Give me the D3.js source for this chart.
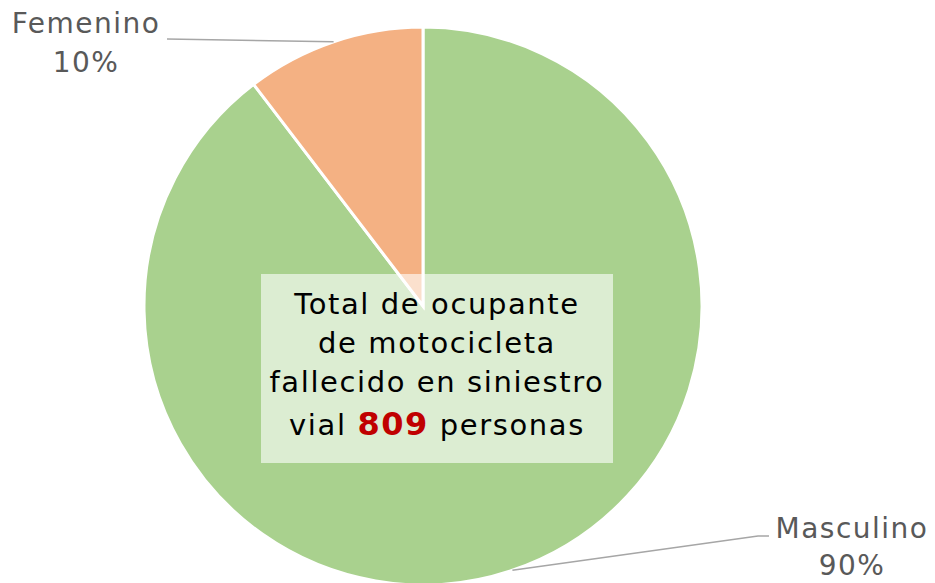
<!DOCTYPE html>
<html>
<head>
<meta charset="utf-8">
<script src="https://cdn.jsdelivr.net/npm/d3@7"></script>
<style>
  body { margin: 0; background: #fff; }
  svg { display: block; font-family: "Century Gothic", "URW Gothic", "DejaVu Sans", sans-serif; }
</style>
</head>
<body>
<div id="chart"></div>
<script>
// data
const categories = ['Masculino', 'Femenino'];
const counts = [725, 84];
const percentLabels = ['90%', '10%'];
const colors = ['#a9d18e', '#f4b183'];
const totalLines = ['Total de ocupante', 'de motocicleta', 'fallecido en siniestro'];
const totalValue = 809;

const width = 935, height = 583;
const cx = 423, cy = 306, radius = 279;

const svg = d3.select('#chart')
    .append('svg')
    .attr('width', width)
    .attr('height', height);

const pieData = categories.map((c, i) => ({ name: c, value: counts[i], pct: percentLabels[i], color: colors[i] }));

const pie = d3.pie().sort(null).value(d => d.value);
const arc = d3.arc().innerRadius(0).outerRadius(radius);
const arcs = pie(pieData);

const g = svg.append('g').attr('transform', `translate(${cx},${cy})`);

g.selectAll('path')
    .data(arcs)
    .enter()
    .append('path')
    .attr('d', arc)
    .attr('fill', d => d.data.color)
    .attr('stroke', '#fff')
    .attr('stroke-width', 3);

// leader lines from the middle of each slice's edge
const labelColor = '#595959';
function edgePoint(a) {
    const ang = (a.startAngle + a.endAngle) / 2;
    return [cx + radius * Math.sin(ang), cy - radius * Math.cos(ang)];
}

const leaders = [
    [edgePoint(arcs[0]), [758, 536], [769, 536]],
    [edgePoint(arcs[1]), [167, 39]]
];

svg.selectAll('.leader')
    .data(leaders)
    .enter()
    .append('polyline')
    .attr('class', 'leader')
    .attr('points', d => d.map(p => p.join(',')).join(' '))
    .attr('fill', 'none')
    .attr('stroke', '#a6a6a6')
    .attr('stroke-width', 1.5);

const labelPos = [
    { x: 852, y1: 538, y2: 575 },
    { x: 86, y1: 33, y2: 72 }
];

pieData.forEach((d, i) => {
    const t = svg.append('text')
        .attr('text-anchor', 'middle')
        .attr('fill', labelColor)
        .style('font-size', '28px')
        .style('letter-spacing', '1.5px');
    t.append('tspan').attr('x', labelPos[i].x).attr('y', labelPos[i].y1).text(d.name);
    t.append('tspan').attr('x', labelPos[i].x).attr('y', labelPos[i].y2).text(d.pct);
});

// centre box
svg.append('rect')
    .attr('x', 261)
    .attr('y', 274)
    .attr('width', 352)
    .attr('height', 189)
    .attr('fill', 'rgba(255,255,255,0.6)');

const boxText = svg.append('text')
    .attr('text-anchor', 'middle')
    .attr('fill', '#000')
    .style('font-size', '29px')
    .style('letter-spacing', '1.6px');

totalLines.forEach((line, i) => {
    boxText.append('tspan')
        .attr('x', 437)
        .attr('y', 314 + i * 39)
        .text(line);
});

boxText.append('tspan').attr('x', 437).attr('y', 435).text('vial ');
boxText.append('tspan')
    .attr('fill', '#c00000')
    .style('font-weight', 'bold')
    .style('font-size', '32px')
    .text(totalValue);
boxText.append('tspan').text(' personas');
</script>
</body>
</html>
